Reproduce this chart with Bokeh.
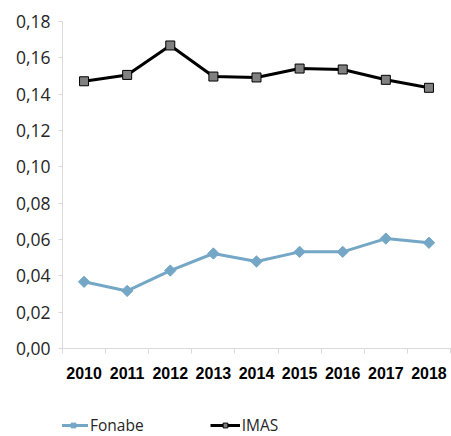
from bokeh.plotting import figure
from bokeh.layouts import column
from bokeh.models import (Range1d, LinearAxis, FixedTicker,
                          CustomJSTickFormatter, Legend, LegendItem, ColumnDataSource)
from bokeh.embed import file_html
from bokeh.resources import INLINE
import math

years = [2010, 2011, 2012, 2013, 2014, 2015, 2016, 2017, 2018]
fonabe = [0.0367, 0.0317, 0.0429, 0.0523, 0.0479, 0.0532, 0.0532, 0.0605, 0.0582]
imas = [0.1471, 0.1506, 0.1668, 0.1497, 0.1492, 0.1541, 0.1536, 0.1479, 0.1435]
y_ticks = [0.0, 0.02, 0.04, 0.06, 0.08, 0.10, 0.12, 0.14, 0.16, 0.18]

FONT = "Open Sans"
GRID = "#d9d9d9"
FON = "#74a7c6"

p = figure(width=451, height=392, x_range=Range1d(years[0] - 0.5, years[-1] + 0.5),
           y_range=Range1d(0, 0.18), output_backend="svg", toolbar_location=None,
           x_axis_location=None, y_axis_location=None,
           min_border_left=62, min_border_right=1, min_border_top=21, min_border_bottom=44)
p.outline_line_color = None
p.xgrid.visible = False
p.ygrid.visible = False
p.background_fill_color = "white"
p.border_fill_color = "white"

# y axis
yax = LinearAxis(ticker=FixedTicker(ticks=y_ticks),
                 formatter=CustomJSTickFormatter(code="return tick.toFixed(2).replace('.', ',');"))
yax.axis_line_color = GRID
yax.major_tick_line_color = GRID
yax.major_tick_out = 4
yax.major_tick_in = 0
yax.minor_tick_line_color = None
yax.major_label_text_font = FONT
yax.major_label_text_font_size = "17.5px"
yax.major_label_text_color = "#262626"
yax.major_label_standoff = 8
p.add_layout(yax, "left")

# x boundary tick axis (no labels)
bax = LinearAxis(ticker=FixedTicker(ticks=[y - 0.5 for y in years] + [years[-1] + 0.5]),
                 formatter=CustomJSTickFormatter(code="return '';"))
bax.axis_line_color = GRID
bax.major_tick_line_color = GRID
bax.major_tick_out = 5
bax.major_tick_in = 0
bax.minor_tick_line_color = None
bax.major_label_standoff = 0
bax.major_label_text_font_size = "1px"
p.add_layout(bax, "below")

# year labels axis
cax = LinearAxis(ticker=FixedTicker(ticks=years),
                 formatter=CustomJSTickFormatter(code="return tick.toFixed(0);"))
cax.axis_line_color = None
cax.major_tick_line_color = None
cax.minor_tick_line_color = None
cax.major_label_text_font = "Liberation Sans"
cax.major_label_text_font_style = "bold"
cax.major_label_text_font_size = "16px"
cax.major_label_text_color = "#000000"
cax.major_label_standoff = 7
p.add_layout(cax, "below")

src = ColumnDataSource(dict(x=years, fonabe=fonabe, imas=imas))

p.line("x", "fonabe", source=src, line_color=FON, line_width=3)
p.scatter("x", "fonabe", source=src, marker="square", angle=math.pi / 4, size=8,
          fill_color=FON, line_color=FON, line_width=1)
p.line("x", "imas", source=src, line_color="black", line_width=3)
p.scatter("x", "imas", source=src, marker="square", size=9, fill_color="#808080",
          line_color="black", line_width=1)

# legend strip: a small figure whose glyphs lie outside its range, used only for the legend
lf = figure(width=451, height=44, x_range=Range1d(0, 1), y_range=Range1d(0, 1),
            output_backend="svg", toolbar_location=None,
            x_axis_location=None, y_axis_location=None,
            min_border_left=0, min_border_right=0, min_border_top=0, min_border_bottom=0)
lf.outline_line_color = None
lf.xgrid.visible = False
lf.ygrid.visible = False
lf.background_fill_color = "white"
lf.border_fill_color = "white"

l1 = lf.line("x", "fonabe", source=src, line_color=FON, line_width=3)
m1 = lf.scatter("x", "fonabe", source=src, marker="square", angle=math.pi / 4, size=8,
                fill_color=FON, line_color=FON, line_width=1)
l2 = lf.line("x", "imas", source=src, line_color="black", line_width=3)
m2 = lf.scatter("x", "imas", source=src, marker="square", size=9, fill_color="#808080",
                line_color="black", line_width=1)

legend = Legend(items=[LegendItem(label="Fonabe", renderers=[l1, m1]),
                       LegendItem(label="IMAS", renderers=[l2, m2])],
                orientation="horizontal", location=(-4, 0))
legend.label_text_font = FONT
legend.label_text_font_size = "15.5px"
legend.label_text_color = "#262626"
legend.border_line_color = None
legend.background_fill_alpha = 0
legend.glyph_width = 30
legend.glyph_height = 12
legend.label_height = 12
legend.label_standoff = 2
legend.spacing = 66
legend.margin = 0
legend.padding = 0
lf.add_layout(legend, "center")

layout = column(p, lf, spacing=0)
open("out.html", "w").write(file_html(layout, INLINE))
